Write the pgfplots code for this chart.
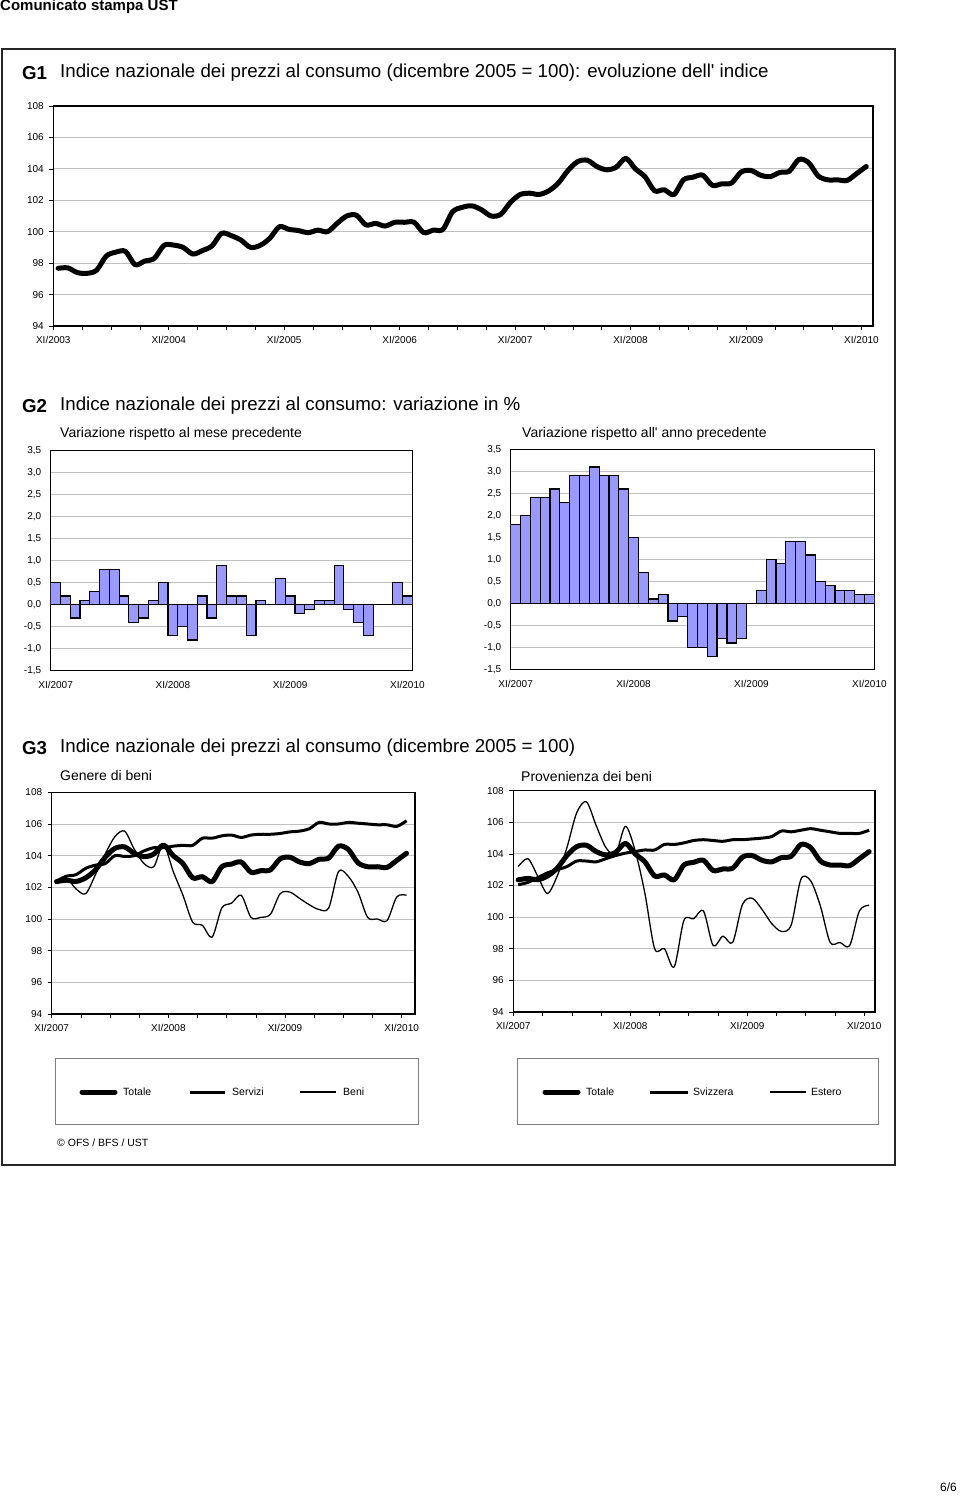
\documentclass[border=0pt]{standalone}
\usepackage{fontspec}
\setmainfont{Liberation Sans}
\usepackage{pgfplots}
\usepackage{pgfplotstable}
\pgfplotsset{compat=1.18}
\definecolor{barblue}{RGB}{153,153,255}
\definecolor{gridgray}{RGB}{192,192,192}

\pgfplotstableread{
v
97.67
97.7
97.4
97.35
97.55
98.45
98.7
98.75
97.9
98.13
98.3
99.13
99.15
99.0
98.58
98.8
99.1
99.9
99.75
99.47
99.0
99.13
99.58
100.32
100.15
100.07
99.94
100.1
100.0
100.53
101.0
101.05
100.43
100.53
100.36
100.6
100.6
100.6
99.94
100.1
100.15
101.27
101.55
101.65
101.4
101.0
101.1
101.85
102.36
102.45
102.37
102.6
103.1
103.9
104.46
104.55
104.15
103.94
104.1
104.67
104.0
103.5
102.6
102.67
102.36
103.3
103.47
103.6
102.95
103.05
103.1
103.8
103.9
103.6
103.5
103.77
103.85
104.6
104.4
103.55
103.3
103.3
103.26
103.7
104.15
}\gone

\pgfplotstableread{
v
102.36
102.45
102.37
102.6
103.1
103.9
104.46
104.55
104.15
103.94
104.1
104.67
104.0
103.5
102.6
102.67
102.36
103.3
103.47
103.6
102.95
103.05
103.1
103.8
103.9
103.6
103.5
103.77
103.85
104.6
104.4
103.55
103.3
103.3
103.26
103.7
104.15
}\totale

\pgfplotstableread{
v
102.4
102.7
102.8
103.2
103.4
103.5
104.0
103.95
104.0
104.3
104.5
104.5
104.6
104.65
104.65
105.1
105.1
105.25
105.3
105.15
105.3
105.35
105.35
105.4
105.5
105.55
105.7
106.1
106.0
106.0
106.1
106.05
106.0
105.95
105.95
105.85
106.2
}\servizi

\pgfplotstableread{
v
102.4
102.6
101.9
101.6
102.8
104.1
105.2
105.55
104.4
103.5
103.3
104.7
103.0
101.5
99.8
99.6
98.85
100.7
101.0
101.5
100.1
100.1
100.3
101.6
101.7
101.3
100.9
100.6
100.7
103.0
102.7
101.7
100.1
100.0
99.9
101.4
101.5
}\beni

\pgfplotstableread{
v
102.05
102.2
102.5
102.8
103.0
103.2
103.55
103.55
103.5
103.7
103.9
104.05
104.15
104.25
104.25
104.6
104.6
104.7
104.85
104.9
104.85
104.8
104.9
104.9
104.95
105.0
105.1
105.45
105.4
105.5
105.6
105.5
105.4
105.3
105.3
105.3
105.5
}\svizzera

\pgfplotstableread{
v
103.2
103.7
102.6
101.5
102.6
104.4
106.6
107.3
105.8
104.4
104.0
105.75
104.2
101.5
98.0
98.0
96.85
99.8
99.9
100.4
98.2
98.8
98.4
100.8
101.2
100.5
99.6
99.1
99.5
102.4
102.3
100.7
98.4
98.4
98.2
100.4
100.75
}\estero

\pgfplotstableread{
v
0.5
0.2
-0.3
0.1
0.3
0.8
0.8
0.2
-0.4
-0.3
0.1
0.5
-0.7
-0.5
-0.8
0.2
-0.3
0.9
0.2
0.2
-0.7
0.1
0.0
0.6
0.2
-0.2
-0.1
0.1
0.1
0.9
-0.1
-0.4
-0.7
0.0
0.0
0.5
0.2
}\mese

\pgfplotstableread{
v
1.8
2.0
2.4
2.4
2.6
2.3
2.9
2.9
3.1
2.9
2.9
2.6
1.5
0.7
0.1
0.2
-0.4
-0.3
-1.0
-1.0
-1.2
-0.8
-0.9
-0.8
0.0
0.3
1.0
0.9
1.4
1.4
1.1
0.5
0.4
0.3
0.3
0.2
0.2
}\anno

\pgfplotsset{
  ustbase/.style={
    scale only axis,
    axis line style={line width=1.5pt},
    tick style={line width=0.6pt, black},
    tick align=outside,
    major tick length=4pt, minor tick length=4pt,
    xtick pos=bottom, ytick pos=left,
    ymajorgrids,
    major grid style={draw=gridgray, line width=0.9pt},
    tick label style={font=\fontsize{10}{12}\selectfont},
    /pgf/number format/assume math mode=true,
    xticklabel style={yshift=-3pt},
    yticklabel style={xshift=-2pt},
  },
  lineg/.style={ustbase, xmin=0, ymin=94, ymax=108, ytick={94,96,...,108},
    yticklabel style={/pgf/number format/.cd, fixed, precision=0}},
  barg/.style={ustbase, xmin=-0.5, xmax=36.5, ymin=-1.5, ymax=3.5,
    ytick={-1.5,-1,-0.5,0,0.5,1,1.5,2,2.5,3,3.5},
    xtick={0,12,24,36},
    xticklabels={XI/2007,XI/2008,XI/2009,XI/2010},
    xtick style={draw=none}, ytick style={draw=none},
    yticklabel style={/pgf/number format/.cd, fixed, fixed zerofill, precision=1, use comma},
    extra y ticks={0}, extra y tick labels={},
    extra y tick style={major grid style={draw=black, line width=1.3pt}, tick style={draw=none}},
  },
}

\begin{document}
\begin{tikzpicture}
\path[use as bounding box] (0pt,0pt) rectangle (960pt,-1501pt);

\node[anchor=west, inner sep=0pt, font=\fontsize{15}{18}\selectfont\bfseries] at (0pt,-7pt) {Comunicato stampa UST};
\draw[line width=2pt, black!85] (2pt,-49pt) rectangle (895pt,-1165pt);
\node[anchor=east, inner sep=0pt, font=\fontsize{12}{14}\selectfont] at (957pt,-1487pt) {6/6};

% ---------- G1 ----------
\node[anchor=west, inner sep=0pt, font=\fontsize{18.7}{22}\selectfont\bfseries] at (22pt,-73pt) {G1};
\node[anchor=west, inner sep=0pt, font=\fontsize{18.7}{22}\selectfont] at (60pt,-73pt) {Indice nazionale dei prezzi al consumo (dicembre 2005 = 100): evoluzione dell\textquotesingle{} indice};

\begin{axis}[lineg, at={(53.3pt,-326pt)}, anchor=south west,
  width=819.7pt, height=220pt, xmax=85.2,
  xtick={0,12,...,84},
  xticklabels={XI/2003,XI/2004,XI/2005,XI/2006,XI/2007,XI/2008,XI/2009,XI/2010},
  minor xtick={3,6,...,84}]
\addplot[black, line width=5pt, smooth, tension=0.5, line join=round, line cap=round]
  table[x expr=\coordindex+0.5, y=v] {\gone};
\end{axis}

% ---------- G2 ----------
\node[anchor=west, inner sep=0pt, font=\fontsize{18.7}{22}\selectfont\bfseries] at (22pt,-406pt) {G2};
\node[anchor=west, inner sep=0pt, font=\fontsize{18.7}{22}\selectfont] at (60pt,-406pt) {Indice nazionale dei prezzi al consumo: variazione in \%};
\node[anchor=west, inner sep=0pt, font=\fontsize{14}{17}\selectfont] at (60pt,-434pt) {Variazione rispetto al mese precedente};
\node[anchor=west, inner sep=0pt, font=\fontsize{14}{17}\selectfont] at (522pt,-434pt) {Variazione rispetto all\textquotesingle{} anno precedente};

\begin{axis}[barg, at={(50.7pt,-670.7pt)}, anchor=south west, width=361.6pt, height=220pt]
\addplot[ybar, bar width=1, bar shift=0pt, fill=barblue, draw=black, line width=1.2pt]
  table[x expr=\coordindex, y=v] {\mese};
\end{axis}

\begin{axis}[barg, at={(510.7pt,-669.3pt)}, anchor=south west, width=363.6pt, height=220pt]
\addplot[ybar, bar width=1, bar shift=0pt, fill=barblue, draw=black, line width=1.2pt]
  table[x expr=\coordindex, y=v] {\anno};
\end{axis}

% ---------- G3 ----------
\node[anchor=west, inner sep=0pt, font=\fontsize{18.7}{22}\selectfont\bfseries] at (22pt,-748pt) {G3};
\node[anchor=west, inner sep=0pt, font=\fontsize{18.7}{22}\selectfont] at (60pt,-748pt) {Indice nazionale dei prezzi al consumo (dicembre 2005 = 100)};
\node[anchor=west, inner sep=0pt, font=\fontsize{14}{17}\selectfont] at (60pt,-775pt) {Genere di beni};
\node[anchor=west, inner sep=0pt, font=\fontsize{14}{17}\selectfont] at (521pt,-776pt) {Provenienza dei beni};

\begin{axis}[lineg, at={(51.7pt,-1014pt)}, anchor=south west, width=363.3pt, height=221.7pt,
  xmax=37.37, xtick={0,12,24,36}, xticklabels={XI/2007,XI/2008,XI/2009,XI/2010},
  minor xtick={3,6,...,36}]
\addplot[black, line width=1.3pt, smooth, tension=0.5, line join=round]
  table[x expr=\coordindex+0.5, y=v] {\beni};
\addplot[black, line width=3pt, smooth, tension=0.5, line join=round]
  table[x expr=\coordindex+0.5, y=v] {\servizi};
\addplot[black, line width=5pt, smooth, tension=0.5, line join=round, line cap=round]
  table[x expr=\coordindex+0.5, y=v] {\totale};
\end{axis}

\begin{axis}[lineg, at={(513.3pt,-1012pt)}, anchor=south west, width=361.7pt, height=221.3pt,
  xmax=37.1, xtick={0,12,24,36}, xticklabels={XI/2007,XI/2008,XI/2009,XI/2010},
  minor xtick={3,6,...,36}]
\addplot[black, line width=1.3pt, smooth, tension=0.5, line join=round]
  table[x expr=\coordindex+0.5, y=v] {\estero};
\addplot[black, line width=3pt, smooth, tension=0.5, line join=round]
  table[x expr=\coordindex+0.5, y=v] {\svizzera};
\addplot[black, line width=5pt, smooth, tension=0.5, line join=round, line cap=round]
  table[x expr=\coordindex+0.5, y=v] {\totale};
\end{axis}

% ---------- legends ----------
\draw[gray, line width=0.8pt] (55pt,-1058pt) rectangle (418pt,-1124pt);
\draw[black, line width=5pt, line cap=round] (82pt,-1092pt) -- (115pt,-1092pt);
\node[anchor=west, inner sep=0pt, font=\fontsize{10.5}{12}\selectfont] at (123pt,-1092pt) {Totale};
\draw[black, line width=3pt] (190pt,-1092pt) -- (225pt,-1092pt);
\node[anchor=west, inner sep=0pt, font=\fontsize{10.5}{12}\selectfont] at (232pt,-1092pt) {Servizi};
\draw[black, line width=1.3pt] (300pt,-1092pt) -- (336pt,-1092pt);
\node[anchor=west, inner sep=0pt, font=\fontsize{10.5}{12}\selectfont] at (343pt,-1092pt) {Beni};

\draw[gray, line width=0.8pt] (517pt,-1058pt) rectangle (878pt,-1124pt);
\draw[black, line width=5pt, line cap=round] (545pt,-1092pt) -- (578pt,-1092pt);
\node[anchor=west, inner sep=0pt, font=\fontsize{10.5}{12}\selectfont] at (586pt,-1092pt) {Totale};
\draw[black, line width=3pt] (650pt,-1092pt) -- (688pt,-1092pt);
\node[anchor=west, inner sep=0pt, font=\fontsize{10.5}{12}\selectfont] at (693pt,-1092pt) {Svizzera};
\draw[black, line width=1.3pt] (770pt,-1092pt) -- (806pt,-1092pt);
\node[anchor=west, inner sep=0pt, font=\fontsize{10.5}{12}\selectfont] at (811pt,-1092pt) {Estero};

\node[anchor=west, inner sep=0pt, font=\fontsize{10.5}{12}\selectfont] at (57pt,-1143pt) {\textcopyright\ OFS / BFS / UST};
\end{tikzpicture}
\end{document}
